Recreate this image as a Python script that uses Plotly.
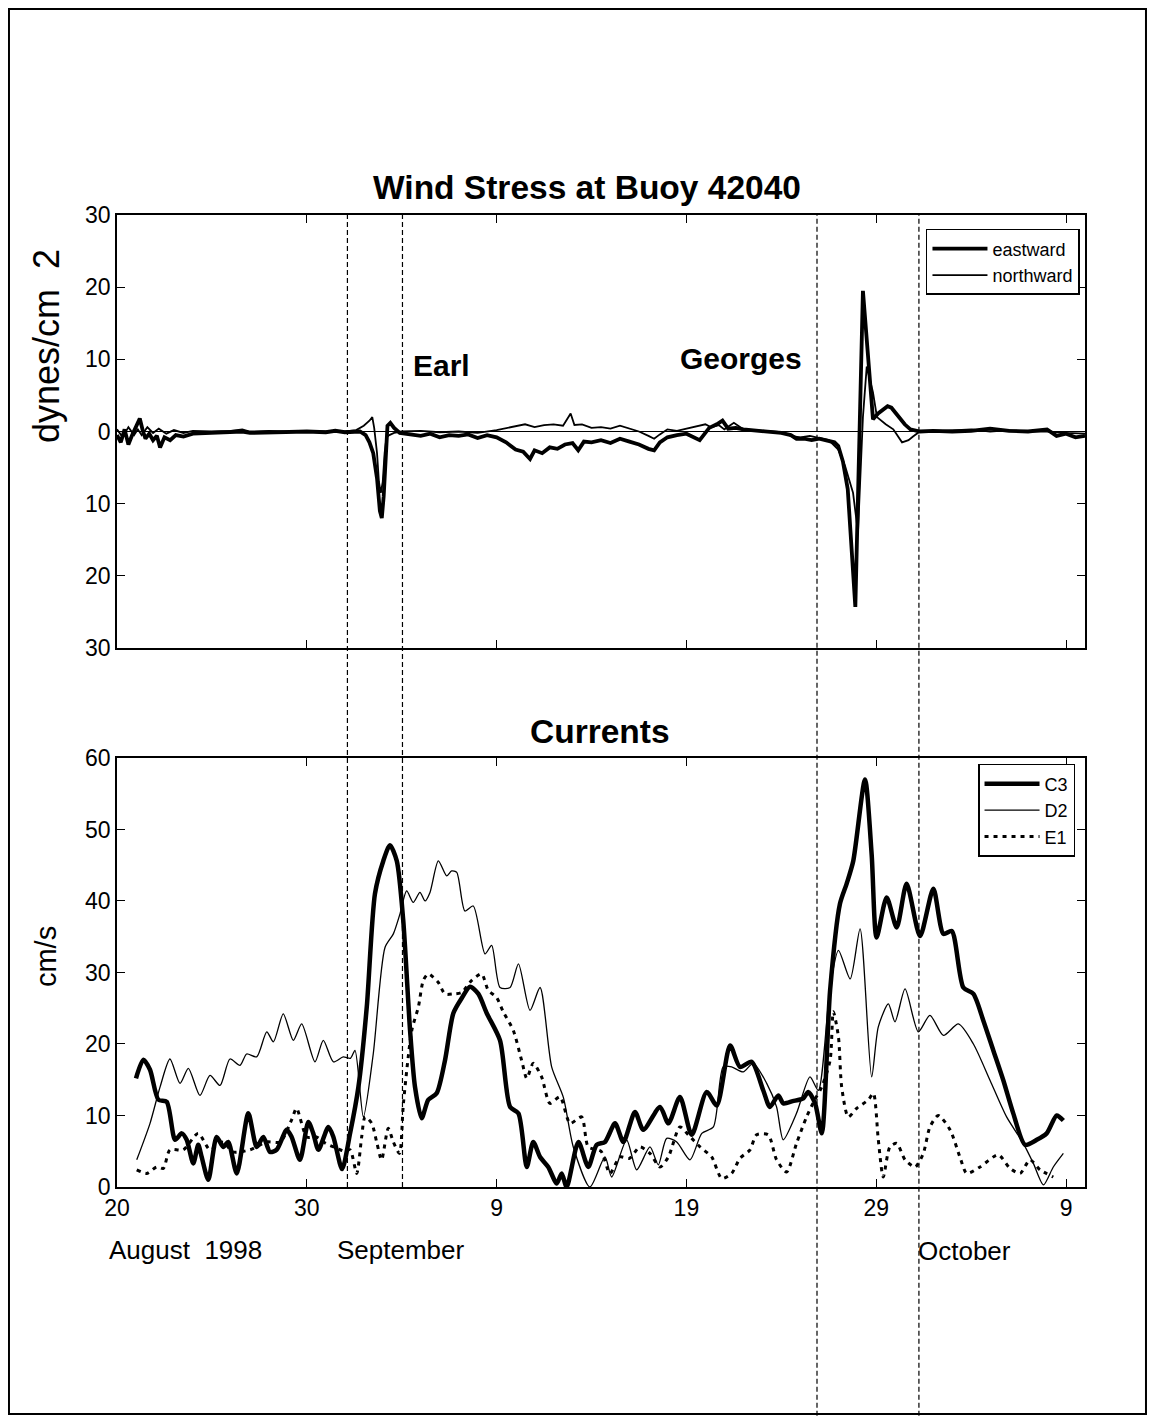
import plotly.graph_objects as go
from plotly.subplots import make_subplots

# x values: days since 20 August 1998
tick_days = [0, 10, 20, 30, 40, 50]
tick_text = ["20", "30", "9", "19", "29", "9"]

# Wind stress (dynes/cm^2) at buoy 42040: (day, value)
eastward = [(0.0, -0.5), (0.2, -1.5), (0.4, 0.3), (0.6, -1.8), (0.8, -0.5), (1.0, 0.8), (1.2, 1.8),
            (1.35, 0.2), (1.5, -1.0), (1.7, -0.3), (1.9, -1.2), (2.1, -0.6), (2.27, -2.2), (2.5, -0.8),
            (2.8, -1.2), (3.1, -0.5), (3.5, -0.7), (4.0, -0.3), (5.0, -0.2), (6.0, -0.1), (6.6, 0.0),
            (7.0, -0.2), (8.0, -0.1), (9.0, -0.1), (10.0, 0.0), (11.0, -0.1), (11.5, 0.1), (12.0, -0.1),
            (12.8, 0.0), (13.1, -0.5), (13.3, -1.5), (13.5, -3.0), (13.7, -6.5), (13.85, -11.0),
            (13.95, -12.0), (14.05, -9.0), (14.15, -3.0), (14.25, 0.8), (14.4, 1.2), (14.6, 0.5),
            (14.9, -0.2), (15.5, -0.4), (16.0, -0.6), (16.5, -0.3), (17.0, -0.8), (17.5, -0.5),
            (18.0, -0.6), (18.5, -0.4), (19.0, -0.9), (19.5, -0.5), (20.0, -0.8), (20.5, -1.5),
            (21.0, -2.5), (21.4, -2.8), (21.76, -3.8), (22.0, -2.6), (22.4, -3.0), (22.8, -2.2),
            (23.2, -2.4), (23.6, -1.8), (24.0, -1.6), (24.3, -2.6), (24.6, -1.4), (25.0, -1.5),
            (25.5, -1.2), (26.0, -1.6), (26.5, -1.0), (27.0, -1.4), (27.5, -1.8), (28.0, -2.4),
            (28.3, -2.6), (28.6, -1.5), (29.0, -0.8), (29.5, -0.5), (30.0, -0.3), (30.7, -1.2),
            (31.2, 0.5), (31.6, 1.0), (31.9, 1.5), (32.2, 0.4), (32.6, 0.5), (33.0, 0.3), (34.0, 0.0),
            (35.0, -0.2), (35.5, -0.5), (35.8, -1.0), (36.2, -1.0), (36.6, -1.2), (37.0, -1.0),
            (37.5, -1.3), (37.8, -1.5), (38.0, -2.0), (38.25, -4.2), (38.5, -8.0), (38.9, -24.3),
            (39.3, 19.5), (39.83, 1.7), (40.1, 2.5), (40.37, 3.0), (40.6, 3.5), (40.8, 3.3),
            (41.2, 2.0), (41.5, 1.0), (41.8, 0.3), (42.3, 0.0), (43.0, 0.1), (44.0, 0.0), (45.0, 0.1),
            (46.0, 0.4), (47.0, 0.1), (48.0, 0.0), (49.0, 0.3), (49.5, -0.6), (50.0, -0.3),
            (50.5, -0.8), (51.0, -0.6)]

northward = [(0.0, 0.3), (0.3, -0.8), (0.6, 0.6), (0.9, -0.5), (1.1, 0.3), (1.3, -0.5), (1.6, 0.6),
             (1.9, -0.2), (2.2, 0.4), (2.6, -0.3), (3.0, 0.2), (3.5, -0.2), (4.0, 0.1), (5.0, 0.0),
             (6.0, 0.1), (6.6, 0.3), (7.0, 0.0), (8.0, 0.1), (9.0, 0.0), (10.0, 0.1), (11.0, 0.0),
             (12.0, 0.0), (12.6, 0.2), (13.0, 0.8), (13.3, 1.5), (13.45, 2.0), (13.55, 0.5),
             (13.7, -3.0), (13.8, -7.0), (13.9, -8.5), (14.0, -7.0), (14.1, -3.0), (14.2, -0.8),
             (14.35, -0.5), (14.6, -0.2), (15.0, 0.0), (16.0, 0.1), (17.0, -0.1), (18.0, 0.0),
             (19.0, -0.2), (20.0, 0.2), (20.5, 0.5), (21.0, 0.8), (21.5, 1.0), (22.0, 0.6),
             (22.5, 0.9), (23.0, 1.0), (23.5, 0.8), (23.9, 2.5), (24.1, 0.9), (24.5, 1.0), (25.0, 0.5),
             (25.5, 0.6), (26.0, 0.4), (26.5, 0.8), (27.0, 0.4), (27.5, 0.0), (28.0, -0.6),
             (28.3, -1.0), (28.6, -0.4), (29.0, 0.3), (29.5, 0.1), (30.0, 0.4), (30.5, 0.8),
             (31.0, 1.0), (31.3, 0.6), (31.7, 0.9), (32.0, 0.3), (32.5, 1.2), (33.0, 0.3), (34.0, 0.1),
             (35.0, -0.1), (35.5, -0.6), (36.0, -0.8), (36.5, -0.6), (37.0, -0.9), (37.5, -1.2),
             (38.0, -2.5), (38.36, -4.8), (38.78, -8.5), (39.04, -14.0), (39.3, 2.0), (39.5, 9.0),
             (39.83, 5.4), (40.04, 2.0), (40.5, 1.0), (40.9, 0.3), (41.36, -1.5), (41.7, -1.2),
             (41.94, -0.7), (42.3, 0.0), (43.0, 0.0), (44.0, 0.1), (45.0, 0.3), (46.0, 0.0),
             (47.0, 0.2), (48.0, 0.0), (49.0, 0.0), (50.0, -0.2), (51.0, -0.3)]

# Currents (cm/s): (day, value)
c3 = [(1.0, 15.2), (1.39, 17.8), (1.74, 16.4), (2.18, 12.2), (2.62, 11.9), (3.06, 6.6), (3.41, 7.5),
      (3.67, 6.6), (4.02, 3.3), (4.28, 5.9), (4.46, 4.2), (4.81, 1.0), (5.25, 7.0), (5.60, 5.6),
      (5.86, 6.3), (6.31, 1.9), (6.92, 10.3), (7.36, 5.6), (7.71, 7.0), (8.06, 4.9), (8.41, 5.2),
      (8.94, 8.0), (9.20, 7.0), (9.64, 3.8), (10.08, 9.1), (10.34, 7.5), (10.61, 5.2), (11.14, 8.4),
      (11.40, 7.0), (11.86, 2.5), (12.28, 7.5), (12.72, 14.0), (13.16, 25.2), (13.59, 41.0),
      (14.03, 45.6), (14.38, 47.8), (14.74, 45.6), (15.08, 37.3), (15.44, 21.9), (15.70, 14.0),
      (16.05, 9.6), (16.40, 12.2), (16.84, 13.1), (17.28, 17.7), (17.72, 24.3), (18.16, 26.4),
      (18.60, 28.0), (19.04, 27.0), (19.48, 24.3), (20.18, 20.5), (20.71, 11.2), (21.15, 10.3),
      (21.59, 2.8), (21.93, 6.3), (22.29, 4.2), (22.72, 2.8), (23.17, 0.5), (23.43, 1.9),
      (23.69, 0.0), (24.31, 6.3), (24.83, 2.8), (25.27, 5.9), (25.71, 6.3), (26.24, 8.9),
      (26.68, 6.3), (27.29, 10.5), (27.73, 8.0), (28.61, 11.2), (29.05, 8.9), (29.66, 12.6),
      (30.28, 7.3), (31.07, 13.3), (31.60, 11.4), (32.30, 19.8), (32.82, 16.8), (33.44, 17.5),
      (34.05, 13.5), (34.40, 11.2), (34.84, 12.8), (35.11, 11.7), (35.6, 12.0), (36.16, 12.4),
      (36.42, 13.3), (36.78, 11.7), (37.13, 7.5), (37.57, 27.5), (38.09, 39.6), (38.44, 42.4),
      (38.79, 45.6), (39.41, 57.0), (39.76, 46.5), (40.02, 34.9), (40.55, 40.5), (41.08, 36.3),
      (41.60, 42.4), (42.31, 35.1), (43.01, 41.7), (43.54, 35.4), (43.98, 35.8), (44.59, 27.9),
      (45.12, 27.0), (45.64, 23.3), (46.17, 19.1), (46.70, 14.9), (47.22, 10.3), (47.84, 5.9),
      (48.46, 6.6), (48.98, 7.5), (49.51, 10.0), (49.86, 9.3)]

d2 = [(1.04, 3.8), (1.74, 8.9), (2.27, 14.0), (2.79, 17.9), (3.32, 14.5), (3.76, 16.6), (4.37, 12.8),
      (4.90, 15.6), (5.43, 14.2), (5.95, 17.9), (6.48, 17.0), (6.83, 18.6), (7.36, 18.2),
      (7.89, 21.7), (8.24, 20.3), (8.76, 24.2), (9.29, 20.5), (9.73, 22.8), (10.43, 17.5),
      (10.87, 20.5), (11.40, 17.5), (11.92, 18.2), (12.3, 18.0), (12.54, 19.1), (12.98, 9.8),
      (13.50, 18.6), (14.12, 33.5), (14.56, 35.4), (14.91, 38.2), (15.26, 41.4), (15.61, 39.8),
      (15.96, 41.2), (16.23, 40.0), (16.49, 41.2), (16.93, 45.6), (17.37, 43.5), (17.63, 44.2),
      (17.90, 44.0), (18.33, 38.6), (18.77, 39.3), (19.39, 32.6), (19.74, 33.8), (20.18, 27.9),
      (20.71, 27.9), (21.15, 31.2), (21.76, 24.7), (22.29, 27.9), (22.90, 16.8), (23.52, 12.5),
      (24.04, 5.6), (24.92, 0.0), (25.71, 4.2), (26.06, 1.4), (26.85, 6.6), (27.38, 2.4),
      (28.08, 5.6), (28.52, 3.1), (28.96, 6.8), (29.49, 6.3), (30.19, 3.8), (30.81, 7.5),
      (31.42, 8.4), (31.94, 16.8), (32.38, 16.8), (32.99, 16.1), (33.52, 17.3), (34.23, 14.5),
      (34.75, 11.2), (35.10, 6.6), (35.80, 10.3), (36.51, 15.4), (36.95, 13.5), (37.57, 27.9),
      (38.01, 33.1), (38.63, 29.1), (39.15, 36.1), (39.76, 15.4), (40.11, 22.4), (40.64, 25.6),
      (40.99, 23.1), (41.52, 27.7), (42.22, 21.7), (42.83, 24.0), (43.54, 21.2), (44.33, 22.8),
      (45.12, 20.0), (46.00, 14.9), (46.87, 9.8), (47.75, 6.1), (48.28, 3.3), (48.81, 0.3),
      (49.33, 2.8), (49.86, 4.7)]

e1 = [(1.04, 2.4), (1.56, 1.9), (2.09, 2.8), (2.44, 2.6), (2.79, 5.2), (3.49, 5.2), (4.28, 7.5),
      (4.9, 5.2), (5.6, 6.3), (6.1, 4.9), (7.0, 5.2), (7.9, 6.3), (8.6, 6.3), (9.2, 9.4),
      (9.46, 11.0), (10.0, 7.0), (10.5, 7.0), (11.0, 6.1), (11.5, 5.5), (12.0, 5.0), (12.28, 5.2),
      (12.63, 1.9), (12.89, 7.0), (13.07, 9.8), (13.42, 8.9), (13.68, 6.3), (13.94, 3.8),
      (14.29, 8.2), (14.56, 6.3), (14.88, 4.7), (15.09, 11.7), (15.53, 21.9), (15.88, 25.2),
      (16.14, 28.9), (16.40, 29.8), (16.93, 28.6), (17.28, 27.0), (17.72, 27.0), (18.16, 27.2),
      (18.69, 28.9), (19.21, 29.8), (19.56, 27.5), (20.00, 26.5), (20.35, 24.5), (20.88, 21.9),
      (21.32, 17.7), (21.59, 15.2), (21.93, 17.3), (22.37, 15.4), (22.81, 11.7), (23.34, 12.6),
      (23.87, 8.9), (24.48, 9.8), (24.83, 5.6), (25.5, 5.0), (25.97, 1.9), (26.50, 4.2),
      (27.0, 4.0), (27.55, 5.6), (28.08, 4.7), (28.61, 2.8), (29.05, 4.2), (29.66, 8.4),
      (30.1, 7.3), (30.72, 5.6), (31.33, 4.2), (31.86, 1.2), (32.38, 1.9), (32.82, 4.0),
      (33.35, 5.2), (33.70, 7.3), (34.31, 7.3), (34.75, 3.8), (35.28, 2.1), (35.80, 6.1),
      (36.33, 9.8), (36.76, 12.2), (37.13, 14.0), (37.57, 17.7), (37.74, 24.5), (38.01, 21.0),
      (38.18, 14.0), (38.53, 9.8), (38.97, 11.0), (39.59, 12.2), (39.85, 13.1), (40.11, 6.6),
      (40.37, 1.4), (40.72, 5.6), (41.08, 6.1), (41.52, 3.8), (42.05, 2.8), (42.48, 4.7),
      (42.83, 8.4), (43.27, 10.0), (43.89, 8.0), (44.41, 4.2), (44.77, 1.9), (45.47, 2.8),
      (46.43, 4.5), (47.05, 2.6), (47.58, 1.9), (48.10, 3.8), (48.63, 2.4), (49.33, 1.4)]

# hurricane passage markers (days since 20 Aug)
earl_days = [12.14, 15.04]
georges_days = [36.88, 42.25]

FONT = "Liberation Sans, Arial, Helvetica, sans-serif"


def split(pairs):
    return [p[0] for p in pairs], [p[1] for p in pairs]


fig = make_subplots(rows=2, cols=1)

x, y = split(eastward)
fig.add_trace(go.Scatter(x=x, y=y, mode="lines", name="eastward",
                         line=dict(color="black", width=3.8), legend="legend"), row=1, col=1)
x, y = split(northward)
fig.add_trace(go.Scatter(x=x, y=y, mode="lines", name="northward",
                         line=dict(color="black", width=1.8), legend="legend"), row=1, col=1)

x, y = split(c3)
fig.add_trace(go.Scatter(x=x, y=y, mode="lines", name="C3",
                         line=dict(color="black", width=4.5, shape="spline", smoothing=0.7),
                         legend="legend2"), row=2, col=1)
x, y = split(d2)
fig.add_trace(go.Scatter(x=x, y=y, mode="lines", name="D2",
                         line=dict(color="black", width=1.3, shape="spline", smoothing=0.7),
                         legend="legend2"), row=2, col=1)
x, y = split(e1)
fig.add_trace(go.Scatter(x=x, y=y, mode="lines", name="E1",
                         line=dict(color="black", width=3, dash="4px,5px", shape="spline", smoothing=0.7),
                         legend="legend2"), row=2, col=1)

axis_common = dict(showline=True, linecolor="black", linewidth=1.6, mirror="allticks",
                   ticks="inside", ticklen=8, tickwidth=1.4, tickcolor="black",
                   showgrid=False, tickfont=dict(family=FONT, size=23, color="black"))

fig.update_xaxes(range=[0, 51], tickmode="array", tickvals=tick_days, ticktext=tick_text,
                 zeroline=False, **axis_common)
fig.update_xaxes(showticklabels=False, row=1, col=1)

fig.update_yaxes(range=[-30, 30], tickmode="array", tickvals=[30, 20, 10, 0, -10, -20, -30],
                 ticktext=["30", "20", "10", "0", "10", "20", "30"],
                 zeroline=True, zerolinecolor="black", zerolinewidth=1, row=1, col=1,
                 **axis_common)
fig.update_yaxes(range=[0, 60], tickmode="array", tickvals=[0, 10, 20, 30, 40, 50, 60],
                 zeroline=False, row=2, col=1, **axis_common)

fig.update_layout(
    xaxis=dict(domain=[0, 1]), xaxis2=dict(domain=[0, 1]),
    yaxis=dict(domain=[0.5545, 1.0]), yaxis2=dict(domain=[0.0, 0.4414]),
)

shapes = []
for d in earl_days:
    shapes.append(dict(type="line", xref="x2", yref="paper", x0=d, x1=d, y0=0, y1=1,
                       line=dict(color="black", width=1.2, dash="5px,3px")))
for d in georges_days:
    shapes.append(dict(type="line", xref="x2", yref="paper", x0=d, x1=d, y0=-0.26, y1=1,
                       line=dict(color="black", width=1.2, dash="5px,3px")))
# page frame
shapes.append(dict(type="rect", xref="paper", yref="paper", x0=-0.1116, x1=1.063,
                   y0=-0.2335, y1=1.2119, line=dict(color="black", width=2)))

annotations = [
    dict(text="<b>Wind Stress at Buoy 42040</b>", x=0.4855, y=1.0288, xref="paper", yref="paper",
         showarrow=False, font=dict(family=FONT, size=33.5, color="black"), xanchor="center", yanchor="middle"),
    dict(text="<b>Currents</b>", x=0.499, y=0.469, xref="paper", yref="paper",
         showarrow=False, font=dict(family=FONT, size=33.5, color="black"), xanchor="center", yanchor="middle"),
    dict(text="<b>Earl</b>", x=0.3357, y=0.8447, xref="paper", yref="paper",
         showarrow=False, font=dict(family=FONT, size=30, color="black"), xanchor="center", yanchor="middle"),
    dict(text="<b>Georges</b>", x=0.6446, y=0.8519, xref="paper", yref="paper",
         showarrow=False, font=dict(family=FONT, size=30, color="black"), xanchor="center", yanchor="middle"),
    dict(text="dynes/cm  2", x=-0.0733, y=0.8652, xref="paper", yref="paper", textangle=-90,
         showarrow=False, font=dict(family=FONT, size=36, color="black"), xanchor="center", yanchor="middle"),
    dict(text="cm/s", x=-0.0733, y=0.2366, xref="paper", yref="paper", textangle=-90,
         showarrow=False, font=dict(family=FONT, size=29, color="black"), xanchor="center", yanchor="middle"),
    dict(text="August  1998", x=-0.0103, y=-0.0648, xref="paper", yref="paper",
         showarrow=False, font=dict(family=FONT, size=26, color="black"), xanchor="left", yanchor="middle"),
    dict(text="September", x=0.2252, y=-0.0648, xref="paper", yref="paper",
         showarrow=False, font=dict(family=FONT, size=26, color="black"), xanchor="left", yanchor="middle"),
    dict(text="October", x=0.8254, y=-0.0658, xref="paper", yref="paper",
         showarrow=False, font=dict(family=FONT, size=26, color="black"), xanchor="left", yanchor="middle"),
]

legend_common = dict(bgcolor="white", bordercolor="black", borderwidth=1.5,
                     font=dict(family=FONT, size=18, color="black"),
                     xanchor="right", yanchor="top", tracegroupgap=0, itemwidth=55)

# page has an 8px body offset: shift margins so the plot area sits where the reference has it
fig.update_layout(
    width=1156, height=1418,
    margin=dict(l=109, r=79, t=207, b=239),
    paper_bgcolor="white", plot_bgcolor="white",
    showlegend=True,
    legend=dict(x=0.9948, y=0.9856, **legend_common),
    legend2=dict(x=0.9897, y=0.4352, **legend_common),
    shapes=shapes,
    annotations=annotations,
    font=dict(family=FONT, color="black"),
)

fig.write_html("out.html")
